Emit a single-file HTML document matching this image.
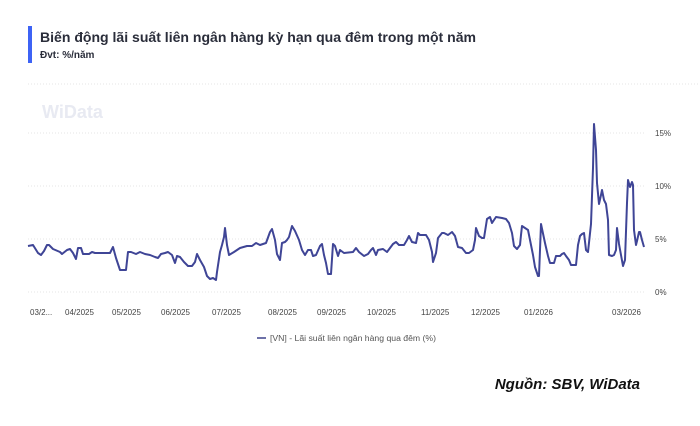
<!DOCTYPE html>
<html><head><meta charset="utf-8"><style>
body{margin:0;background:#fff;width:700px;height:426px;overflow:hidden;font-family:"Liberation Sans",Arial,sans-serif;}
</style></head><body>
<svg width="700" height="426" xmlns="http://www.w3.org/2000/svg" style="display:block">
<rect x="28" y="26" width="4" height="37" fill="#3d63f5"/>
<text x="40" y="42" font-size="14" font-weight="bold" fill="#2a2d3a" font-family="Liberation Sans, sans-serif" textLength="436" lengthAdjust="spacingAndGlyphs">Biến động lãi suất liên ngân hàng kỳ hạn qua đêm trong một năm</text>
<text x="40" y="58" font-size="10" font-weight="bold" fill="#2a2d3a" font-family="Liberation Sans, sans-serif">Đvt: %/năm</text>
<line x1="28" y1="84" x2="700" y2="84" stroke="#e4e4e4" stroke-dasharray="1,2"/>
<text x="42" y="118" font-size="18" font-weight="bold" fill="#e8eaf2" font-family="Liberation Sans, sans-serif">WiData</text>
<g stroke="#e6e6e6" stroke-dasharray="1,2">
<line x1="28" y1="133" x2="645" y2="133"/><line x1="28" y1="186" x2="645" y2="186"/>
<line x1="28" y1="239" x2="645" y2="239"/><line x1="28" y1="292" x2="645" y2="292"/>
</g>
<g font-size="8" fill="#444" font-family="Liberation Sans, sans-serif">
<text x="655" y="136">15%</text><text x="655" y="189">10%</text><text x="655" y="242">5%</text><text x="655" y="295">0%</text>
<text x="30" y="315">03/2...</text><text x="65" y="315">04/2025</text><text x="112" y="315">05/2025</text><text x="161" y="315">06/2025</text><text x="212" y="315">07/2025</text><text x="268" y="315">08/2025</text><text x="317" y="315">09/2025</text><text x="367" y="315">10/2025</text><text x="421" y="315">11/2025</text><text x="471" y="315">12/2025</text><text x="524" y="315">01/2026</text><text x="612" y="315">03/2026</text>
</g>
<polyline fill="none" stroke="#3f4596" stroke-width="2" stroke-linejoin="round" points="28,246 33,245 38,253 41,255 44,251 47,245 49,245 53,249 60,252 62,254 67,250 70,249 73,253 76,259 78,248 81,248 83,254 89,254 92,252 95,253 110,253 113,247 116,258 120,270 126,270 128,252 131,252 136,254 140,252 145,254 150,255 155,257 158,258 161,254 165,253 168,252 172,255 175,263 177,256 180,257 184,262 188,266 192,266 195,262 197,254 200,260 204,267 207,276 210,279 213,278 216,280 217,272 220,252 222,245 224,237 225,228 227,245 229,255 234,252 240,248 247,246 252,246 256,243 260,245 266,243 270,232 272,229 275,240 277,254 280,260 282,243 285,242 287,240 289,237 292,226 295,231 299,240 302,250 305,255 308,250 311,250 313,256 316,255 320,246 322,244 324,255 326,263 328,274 331,274 333,244 335,246 338,256 340,250 344,253 353,252 356,248 359,252 364,256 368,254 371,250 373,248 376,255 378,250 383,249 387,252 393,244 396,242 399,245 404,245 407,240 409,236 412,242 416,243 418,233 420,235 426,235 429,240 432,252 433,262 436,253 438,238 442,233 444,233 448,235 452,232 455,236 458,247 462,248 466,253 469,253 473,250 475,240 476,228 479,236 482,238 484,238 487,219 490,217 492,223 496,217 502,218 506,219 509,223 512,233 514,246 517,249 520,245 521,235 522,226 525,228 528,230 530,240 533,255 535,267 538,276 539,276 541,224 545,243 548,256 550,263 554,263 556,256 560,256 562,254 564,253 566,256 569,260 571,265 576,265 578,245 580,236 582,234 584,233 586,250 588,252 591,224 593,168 594,124 596,150 597,183 599,204 601,195 602,190 604,200 606,204 608,220 609,255 612,256 614,255 616,250 617,228 619,244 621,255 623,266 625,260 627,203 628,180 630,187 632,182 633,185 634,230 636,245 637,241 639,232 640,232 642,240 644,247"/>
<line x1="257" y1="338" x2="266" y2="338" stroke="#6d71a8" stroke-width="2"/>
<text x="270" y="341" font-size="8" fill="#555" font-family="Liberation Sans, sans-serif" textLength="166" lengthAdjust="spacingAndGlyphs">[VN] - Lãi suất liên ngân hàng qua đêm (%)</text>
<text x="640" y="389" text-anchor="end" font-size="15" font-weight="bold" font-style="italic" fill="#111" font-family="Liberation Sans, sans-serif">Nguồn: SBV, WiData</text>
</svg>
</body></html>
